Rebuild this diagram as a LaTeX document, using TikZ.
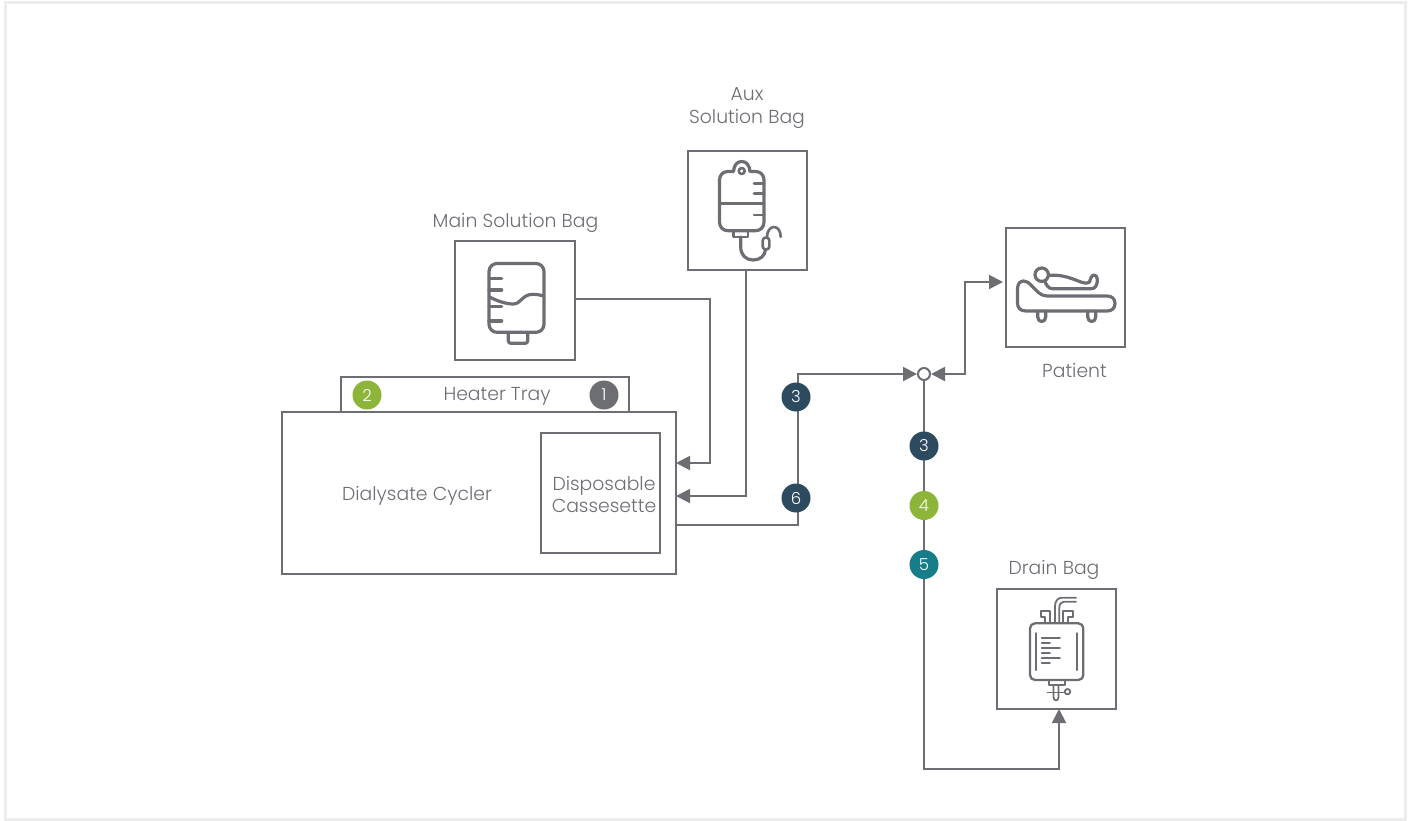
\documentclass[tikz,border=0pt]{standalone}
\usepackage{fontspec}
\setmainfont{Poppins}[UprightFont=* Light]
\usetikzlibrary{arrows.meta}
\definecolor{ln}{HTML}{6D6E74}
\definecolor{txt}{HTML}{6D6E74}
\definecolor{navy}{HTML}{2E4A5E}
\definecolor{lime}{HTML}{8DB53A}
\definecolor{teal2}{HTML}{177E89}
\definecolor{grayb}{HTML}{6D6E71}
\tikzset{
  x=1pt,y=-1pt,
  boxn/.style={draw=ln,line width=2pt,anchor=north west,inner sep=0pt,outer sep=0pt},
  conn/.style={draw=ln,line width=2pt},
  arr/.style={conn,-{Triangle[length=14pt,width=14pt]}},
  badge/.style={circle,minimum size=29pt,inner sep=0pt,text=white,font=\fontsize{16.5}{16.5}\selectfont},
  lbl/.style={text=txt,font=\fontsize{18.8}{22.5}\selectfont,align=center,inner sep=0pt},
  ico/.style={draw=ln,line width=3.2pt,line cap=round,line join=round},
  icot/.style={draw=ln,line width=2.6pt,line cap=round,line join=round},
  icom/.style={draw=ln,line width=2.3pt,line cap=round,line join=round},
  icof/.style={draw=ln,line width=1.8pt,line cap=round,line join=round}
}
\begin{document}
\begin{tikzpicture}
\useasboundingbox (0,0) rectangle (1412,820);
\draw[draw=black!7,line width=3pt] (5.5,2.5) rectangle (1405.5,819);

% boxes
\node[boxn,minimum width=119pt,minimum height=119pt] (aux) at (688,151) {};
\node[boxn,minimum width=120pt,minimum height=119pt] (main) at (455,241) {};
\node[boxn,minimum width=119pt,minimum height=119pt] (patient) at (1006,228) {};
\node[boxn,minimum width=119pt,minimum height=120pt] (drain) at (997,589) {};
\node[boxn,minimum width=394pt,minimum height=162pt] (cycler) at (282,412) {};
\node[boxn,minimum width=288pt,minimum height=35pt] (heater) at (341,377) {};
\node[boxn,minimum width=119pt,minimum height=120pt] (cass) at (541,433) {};

% labels
\node[lbl] (tAux) at (747,108) {Aux\\Solution Bag};
\node[lbl] (tMain) at (515.5,222.7) {Main Solution Bag};
\node[lbl] (tPat) at (1074.5,370) {Patient};
\node[lbl] (tHeat) at (497,396.3) {Heater Tray};
\node[lbl] (tCyc) at (417,495.5) {Dialysate Cycler};
\node[lbl] (tCass) at (604,494.3) {Disposable\\Cassesette};
\node[lbl] (tDrain) at (1054,570.3) {Drain Bag};

% connection points
\node[circle,draw=ln,line width=2pt,fill=white,minimum size=12pt,inner sep=0pt] (j) at (924,374) {};
\coordinate (mainOut) at (575,299);
\coordinate (m1) at (710,299);
\coordinate (m2) at (710,463);
\coordinate (mainIn) at (676,463);
\coordinate (a1) at (746,496);
\coordinate (auxIn) at (676,496);
\coordinate (cycOut) at (676,525);
\coordinate (c1) at (798,525);
\coordinate (c2) at (798,374);
\coordinate (p1) at (965,374);
\coordinate (p2) at (965,282);
\coordinate (patIn) at (1006,282);
\coordinate (d1) at (924,769);
\coordinate (d2) at (1059,769);

\draw[arr] (mainOut) -- (m1) -- (m2) -- (mainIn);
\draw[arr] (aux.south -| a1) -- (a1) -- (auxIn);
\draw[arr] (cycOut) -- (c1) -- (c2) -- (j.west);
\draw[conn,{Triangle[length=14pt,width=14pt]}-{Triangle[length=14pt,width=14pt]}] (j.east) -- (p1) -- (p2) -- ([xshift=-3pt]patIn);
\draw[arr] (j.south) -- (d1) -- (d2) -- (drain.south -| d2);

% badges
\node[badge,fill=lime] (b2) at (367,395) {2};
\node[badge,fill=grayb] (b1) at (604,395) {1};
\node[badge,fill=navy] (b3a) at (796,397) {3};
\node[badge,fill=navy] (b6) at (796,498) {6};
\node[badge,fill=navy] (b3b) at (924,446) {3};
\node[badge,fill=lime] (b4) at (924,505.5) {4};
\node[badge,fill=teal2] (b5) at (924,564.5) {5};

% aux bag icon
\draw[ico] (719.5,180) .. controls (719.5,175) and (723,171.5) .. (728,171.5) -- (733.5,171.5)
  .. controls (734,165) and (737,161.5) .. (741.7,161.5) .. controls (746.4,161.5) and (749.4,165) .. (750,171.5)
  -- (755.5,171.5) .. controls (760.5,171.5) and (764,175) .. (764,180) -- (764,222)
  .. controls (764,227) and (760.5,230.7) .. (755.5,230.7) -- (728,230.7) .. controls (723,230.7) and (719.5,227) .. (719.5,222) -- cycle;
\draw[icot] (741.7,171) circle (3pt);
\draw[icot] (719.5,203.3) -- (764,203.3);
\draw[icot] (754,183.3) -- (764,183.3) (754,193.3) -- (764,193.3) (754,215) -- (764,215);
\draw[icot] (733.5,231) rectangle (748,237);
\draw[ico] (740.7,237) -- (740.7,247) .. controls (740.7,255) and (746,260) .. (753,260) .. controls (760,260) and (765,256) .. (765.5,249.5);
\draw[icot,rounded corners=3pt] (762.7,237.5) rectangle (769.3,249.5);
\draw[icot] (767,237.5) .. controls (767,231) and (770,227) .. (774,227) .. controls (778,227) and (780.7,231) .. (780.7,237);

% main bag icon
\draw[ico,rounded corners=8pt] (489,263.5) rectangle (544,332.3);
\draw[ico] (489,278.3) -- (501.7,278.3) (489,290) -- (501.7,290) (489,306.7) -- (501.7,306.7) (489,321) -- (501.7,321);
\draw[ico] (489,296.7) .. controls (497,301) and (506,304) .. (513.3,304) .. controls (521,304) and (522,294.3) .. (533,294.3) .. controls (537,294.3) and (540,295) .. (544,296);
\draw[ico,rounded corners=2.5pt] (508.3,332.3) -- (508.3,343.3) -- (527.7,343.3) -- (527.7,332.3);

% patient icon
\draw[ico] (1017.5,289) .. controls (1017.5,284) and (1020,281) .. (1023.5,281) .. controls (1027,281) and (1029,283) .. (1031,285)
  .. controls (1036,290) and (1040,296) .. (1047,296) -- (1107,296) .. controls (1112,296) and (1115,299) .. (1115,303.5)
  .. controls (1115,308) and (1112,311) .. (1107,311) -- (1026,311) .. controls (1020.5,311) and (1017.5,308) .. (1017.5,303) -- cycle;
\draw[ico] (1037.7,311) -- (1037.7,317) .. controls (1037.7,323) and (1045.7,323) .. (1045.7,317) -- (1045.7,311);
\draw[ico] (1087.7,311) -- (1087.7,317) .. controls (1087.7,323) and (1095.7,323) .. (1095.7,317) -- (1095.7,311);
\draw[ico] (1041.7,274.7) circle (6.7pt);
\draw[ico] (1048.5,275.3) .. controls (1060,274.5) and (1068,277) .. (1077,280.5) .. controls (1083,283) and (1087,284) .. (1089.5,282)
  .. controls (1090.5,278) and (1092,275) .. (1094,275) .. controls (1098,275) and (1098,282) .. (1096,286) .. controls (1095,288) and (1093,288.7) .. (1091,288.7)
  -- (1052,288.7) .. controls (1049,288.7) and (1046,285) .. (1045,281.5);

% drain bag icon
\draw[icom,rounded corners=5pt] (1030,623.3) rectangle (1083.3,680);
\draw[icom] (1035.7,633.3) -- (1035.7,670) (1077.3,633.3) -- (1077.3,670);
\draw[icof] (1041.7,638.3) -- (1060,638.3) (1041.7,648.3) -- (1060,648.3) (1041.7,657.7) -- (1060,657.7);
\draw[icof] (1041.7,643.3) -- (1050,643.3) (1041.7,653.3) -- (1050,653.3) (1041.7,662.7) -- (1050,662.7);
\draw[icof] (1045,623) -- (1045,617) -- (1040.7,617) -- (1040.7,611) -- (1050,611) -- (1050,623);
\draw[icof] (1068.3,623) -- (1068.3,617) -- (1072.7,617) -- (1072.7,611) -- (1063.3,611) -- (1063.3,623);
\draw[icof] (1055,623) -- (1055,606) .. controls (1055,601) and (1058,597.7) .. (1062,597.7) -- (1076,597.7);
\draw[icof] (1059.3,623) -- (1059.3,608) .. controls (1059.3,604) and (1061,601.7) .. (1064,601.7) -- (1076,601.7);
\draw[icof] (1049.3,680) -- (1049.3,685) -- (1065,685) -- (1065,680);
\draw[icof] (1053.5,685) -- (1053.5,697) .. controls (1053.5,701.5) and (1058.5,701.5) .. (1058.5,697) -- (1058.5,685);
\draw[icof] (1047.5,692.5) -- (1064,692.5);
\draw[icof] (1067.5,691.7) circle (2.7pt);
\end{tikzpicture}
\end{document}
